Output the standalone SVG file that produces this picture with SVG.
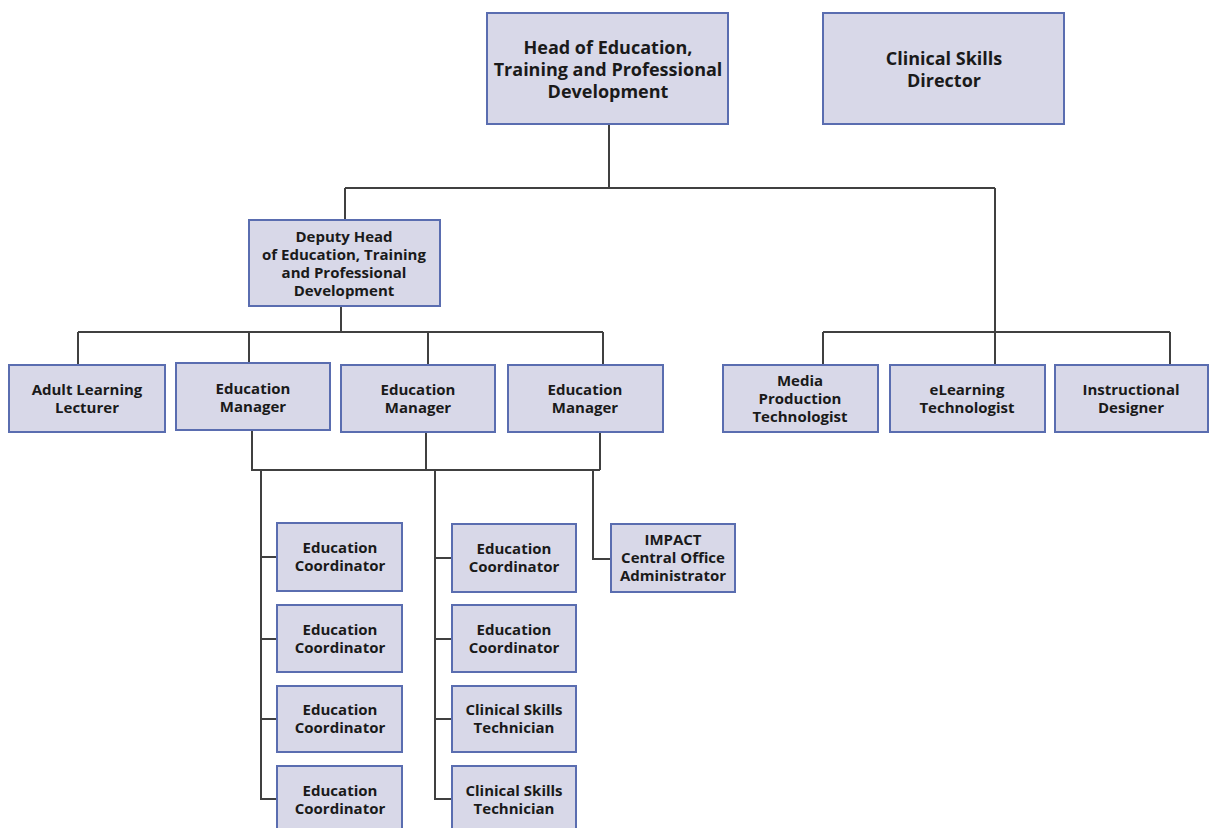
<svg xmlns="http://www.w3.org/2000/svg" width="1209" height="828" viewBox="0 0 1209 828">
<style>
.box{fill:#d8d8e8;stroke:#5a6db0;stroke-width:2}
.t{font-family:"Open Sans","Liberation Sans",sans-serif;font-weight:700;fill:#1a1a1a;text-anchor:middle}
.l{font-size:18px}
.m{font-size:15px}
.s{font-size:15px}
.c{fill:none;stroke:#404040;stroke-width:2}
</style>
<rect width="1209" height="828" fill="#ffffff"/>
<g id="connectors" class="c">
<path d="M609 124V188M345 188H995M345 188V220M995 188V365"/>
<path d="M341 306V332M78 332H603M78 332V365M249 332V363M428 332V365M603 332V365"/>
<path d="M823 332H1170M823 332V365M1170 332V365"/>
<path d="M252 430V470H600M426 432V470M600 432V470"/>
<path d="M261 470V799H277M261 557H277M261 639H277M261 719H277"/>
<path d="M435 470V799H452M435 558H452M435 639H452M435 719H452"/>
<path d="M593 470V559H611"/>
</g>
<g id="head"><rect class="box" x="487" y="13" width="241" height="111"/>
<text class="t l" x="608"><tspan x="608" y="54">Head of Education,</tspan><tspan x="608" y="76">Training and Professional</tspan><tspan x="608" y="98">Development</tspan></text></g>
<g id="director"><rect class="box" x="823" y="13" width="241" height="111"/>
<text class="t l" x="944"><tspan x="944" y="65">Clinical Skills</tspan><tspan x="944" y="87">Director</tspan></text></g>
<g id="deputy"><rect class="box" x="249" y="220" width="191" height="86"/>
<text class="t m" x="344"><tspan x="344" y="242">Deputy Head</tspan><tspan x="344" y="260">of Education, Training</tspan><tspan x="344" y="278">and Professional</tspan><tspan x="344" y="296">Development</tspan></text></g>
<g id="adult"><rect class="box" x="9" y="365" width="156" height="67"/>
<text class="t s" x="87"><tspan x="87" y="395">Adult Learning</tspan><tspan x="87" y="413">Lecturer</tspan></text></g>
<g id="em1"><rect class="box" x="176" y="363" width="154" height="67"/>
<text class="t s" x="253"><tspan x="253" y="394">Education</tspan><tspan x="253" y="412">Manager</tspan></text></g>
<g id="em2"><rect class="box" x="341" y="365" width="154" height="67"/>
<text class="t s" x="418"><tspan x="418" y="395">Education</tspan><tspan x="418" y="413">Manager</tspan></text></g>
<g id="em3"><rect class="box" x="508" y="365" width="155" height="67"/>
<text class="t s" x="585"><tspan x="585" y="395">Education</tspan><tspan x="585" y="413">Manager</tspan></text></g>
<g id="media"><rect class="box" x="723" y="365" width="155" height="67"/>
<text class="t s" x="800"><tspan x="800" y="386">Media</tspan><tspan x="800" y="404">Production</tspan><tspan x="800" y="422">Technologist</tspan></text></g>
<g id="elearning"><rect class="box" x="890" y="365" width="155" height="67"/>
<text class="t s" x="967"><tspan x="967" y="395">eLearning</tspan><tspan x="967" y="413">Technologist</tspan></text></g>
<g id="instructional"><rect class="box" x="1055" y="365" width="153" height="67"/>
<text class="t s" x="1131"><tspan x="1131" y="395">Instructional</tspan><tspan x="1131" y="413">Designer</tspan></text></g>
<g id="ec1"><rect class="box" x="277" y="523" width="125" height="68"/>
<text class="t s" x="340"><tspan x="340" y="553">Education</tspan><tspan x="340" y="571">Coordinator</tspan></text></g>
<g id="ec2"><rect class="box" x="277" y="605" width="125" height="67"/>
<text class="t s" x="340"><tspan x="340" y="635">Education</tspan><tspan x="340" y="653">Coordinator</tspan></text></g>
<g id="ec3"><rect class="box" x="277" y="686" width="125" height="66"/>
<text class="t s" x="340"><tspan x="340" y="715">Education</tspan><tspan x="340" y="733">Coordinator</tspan></text></g>
<g id="ec4"><rect class="box" x="277" y="766" width="125" height="66"/>
<text class="t s" x="340"><tspan x="340" y="796">Education</tspan><tspan x="340" y="814">Coordinator</tspan></text></g>
<g id="ec5"><rect class="box" x="452" y="524" width="124" height="68"/>
<text class="t s" x="514"><tspan x="514" y="554">Education</tspan><tspan x="514" y="572">Coordinator</tspan></text></g>
<g id="ec6"><rect class="box" x="452" y="605" width="124" height="67"/>
<text class="t s" x="514"><tspan x="514" y="635">Education</tspan><tspan x="514" y="653">Coordinator</tspan></text></g>
<g id="cst1"><rect class="box" x="452" y="686" width="124" height="66"/>
<text class="t s" x="514"><tspan x="514" y="715">Clinical Skills</tspan><tspan x="514" y="733">Technician</tspan></text></g>
<g id="cst2"><rect class="box" x="452" y="766" width="124" height="66"/>
<text class="t s" x="514"><tspan x="514" y="796">Clinical Skills</tspan><tspan x="514" y="814">Technician</tspan></text></g>
<g id="impact"><rect class="box" x="611" y="524" width="124" height="68"/>
<text class="t s" x="673"><tspan x="673" y="545">IMPACT</tspan><tspan x="673" y="563">Central Office</tspan><tspan x="673" y="581">Administrator</tspan></text></g>
</svg>
